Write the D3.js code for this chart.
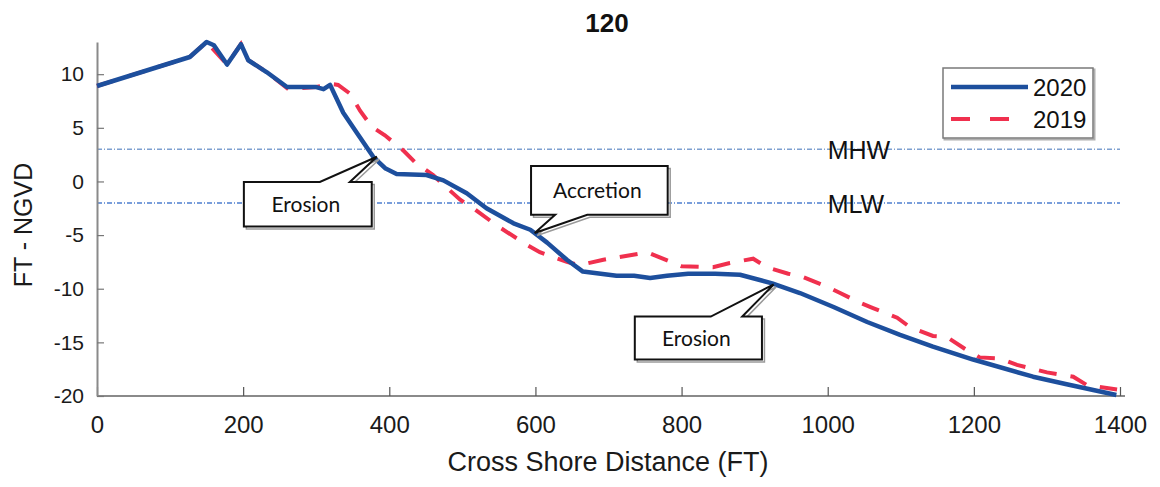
<!DOCTYPE html>
<html>
<head>
<meta charset="utf-8">
<script src="https://cdn.jsdelivr.net/npm/d3@7"></script>
<style>
  html, body { margin: 0; padding: 0; background: #fff; }
  svg { display: block; font-family: "Liberation Sans", Arial, sans-serif; }
</style>
</head>
<body>
<svg id="chart" width="1160" height="487"></svg>
<script>
// Beach profile 120: elevation (FT NGVD) versus cross shore distance (FT)
const title = "120";
const xTicks = [0, 200, 400, 600, 800, 1000, 1200, 1400];
const yTicks = [-20, -15, -10, -5, 0, 5, 10];

// 2020 survey [distance, elevation]
const profile2020 = [
  [0, 8.9], [127, 11.6], [150, 13.0], [160, 12.7], [178, 10.9], [197, 12.8], [207, 11.3],
  [232, 10.2], [260, 8.8], [300, 8.8], [310, 8.6], [319, 9.0], [337, 6.4], [356, 4.5],
  [378, 2.3], [395, 1.2], [410, 0.7], [451, 0.6], [474, 0.1], [506, -1.1], [533, -2.5],
  [570, -3.9], [593, -4.5], [616, -5.7], [643, -7.3], [665, -8.4], [711, -8.8], [735, -8.8],
  [757, -9.0], [780, -8.8], [809, -8.6], [846, -8.6], [880, -8.7], [924, -9.5], [962, -10.4],
  [1008, -11.7], [1054, -13.1], [1099, -14.3], [1144, -15.4], [1199, -16.6], [1281, -18.2],
  [1327, -18.9], [1395, -19.9]
];

// 2019 survey [distance, elevation]
const profile2019 = [
  [0, 8.9], [127, 11.6], [150, 13.0], [178, 10.9], [197, 12.8], [207, 11.3], [232, 10.2],
  [262, 8.6], [300, 8.8], [319, 9.1], [330, 9.0], [346, 8.2], [360, 6.6], [376, 5.1],
  [394, 4.3], [419, 2.9], [435, 1.8], [460, 0.6], [474, -0.3], [497, -1.7], [515, -2.5],
  [547, -4.1], [588, -5.9], [606, -6.6], [643, -7.5], [660, -7.8], [693, -7.3], [753, -6.6],
  [800, -7.9], [843, -8.0], [866, -7.6], [898, -7.2], [917, -8.0], [946, -8.6], [966, -8.9],
  [999, -9.8], [1017, -10.4], [1044, -11.3], [1062, -11.8], [1095, -12.7], [1113, -13.6],
  [1144, -14.4], [1163, -14.5], [1190, -15.7], [1208, -16.4], [1236, -16.5], [1259, -17.1],
  [1300, -17.8], [1336, -18.2], [1355, -19.0], [1396, -19.4]
];

// Tidal datums
const datumNames = ["MHW", "MLW"];
const datumLevels = [3, -2];

// Callouts: text, pointer tip, box extent and pointer base (all in data units)
const calloutText = ["Erosion", "Accretion", "Erosion"];
const calloutTip = [[383, 2.3], [599, -4.8], [926, -9.6]];
const calloutBox = [[201, 376, -0.05, -4.2], [594, 781, 1.45, -3.1], [736, 910, -12.6, -16.6]];
const calloutBase = [[305, 346, "top"], [627, 671, "bottom"], [840, 883, "top"]];

const seriesNames = ["2020", "2019"];

const svg = d3.select("#chart");
const x = d3.scaleLinear().domain([0, 1400]).range([97, 1120]);
const y = d3.scaleLinear().domain([-20, 13]).range([396, 42]);

// Title
svg.append("text")
  .attr("x", 607).attr("y", 32)
  .attr("text-anchor", "middle")
  .attr("font-size", 26).attr("font-weight", "bold")
  .attr("fill", "#111")
  .text(title);

// Datum reference lines
const datums = svg.append("g");
datumLevels.forEach((lv, i) => {
  datums.append("line")
    .attr("x1", x(0)).attr("x2", x(1400))
    .attr("y1", y(lv)).attr("y2", y(lv))
    .attr("stroke", i === 0 ? "#7d9fd0" : "#4d7fd0")
    .attr("stroke-width", 1.5)
    .attr("stroke-dasharray", "5,2,1,2");
  datums.append("text")
    .attr("x", x(1000)).attr("y", y(lv) + 10)
    .attr("font-size", 25).attr("fill", "#111")
    .text(datumNames[i]);
});

// Axes
const xAxis = d3.axisBottom(x).tickValues(xTicks).tickSizeInner(-9).tickSizeOuter(0)
  .tickPadding(20).tickFormat(d => String(d));
const yAxis = d3.axisLeft(y).tickValues(yTicks).tickSizeInner(-7).tickSizeOuter(0)
  .tickPadding(13).tickFormat(d => String(d));

const gx = svg.append("g").attr("transform", `translate(0,${y(-20)})`).call(xAxis);
gx.select(".domain").attr("stroke", "#8a8a8a").attr("stroke-width", 2)
  .attr("d", `M${x(0)},0H${x(1400) + 5}`);
gx.selectAll(".tick line").attr("stroke", "#555").attr("stroke-width", 1.2);
gx.selectAll(".tick text").attr("font-size", 24).attr("fill", "#1a1a1a")
  .attr("font-family", "'Liberation Sans', Arial, sans-serif");

const gy = svg.append("g").attr("transform", `translate(${x(0)},0)`).call(yAxis);
gy.select(".domain").attr("stroke", "#8a8a8a").attr("stroke-width", 2);
gy.selectAll(".tick line").attr("stroke", "#777").attr("stroke-width", 1.2);
gy.selectAll(".tick text").attr("font-size", 21).attr("fill", "#1a1a1a")
  .attr("font-family", "'Liberation Sans', Arial, sans-serif");

// Axis titles
svg.append("text")
  .attr("x", 608).attr("y", 471)
  .attr("text-anchor", "middle")
  .attr("font-size", 27).attr("fill", "#1a1a1a")
  .text("Cross Shore Distance (FT)");
svg.append("text")
  .attr("transform", "translate(32,225) rotate(-90)")
  .attr("text-anchor", "middle")
  .attr("font-size", 25).attr("fill", "#1a1a1a")
  .text("FT - NGVD");

// Profiles
const line = d3.line().x(d => x(d[0])).y(d => y(d[1]));
svg.append("path").datum(profile2019)
  .attr("d", line).attr("fill", "none")
  .attr("stroke", "#f0304e").attr("stroke-width", 4)
  .attr("stroke-dasharray", "18,14");
svg.append("path").datum(profile2020)
  .attr("d", line).attr("fill", "none")
  .attr("stroke", "#1d4f9d").attr("stroke-width", 4.5)
  .attr("stroke-linejoin", "round");

// Callouts
function calloutPath(box, base, tip) {
  const x0 = x(box[0]), x1 = x(box[1]), y0 = y(box[2]), y1 = y(box[3]);
  const wa = x(base[0]), wb = x(base[1]);
  const tx = x(tip[0]), ty = y(tip[1]);
  if (base[2] === "top") {
    return `M${x0},${y0}L${wa},${y0}L${tx},${ty}L${wb},${y0}L${x1},${y0}L${x1},${y1}L${x0},${y1}Z`;
  }
  return `M${x0},${y0}L${x1},${y0}L${x1},${y1}L${wb},${y1}L${tx},${ty}L${wa},${y1}L${x0},${y1}Z`;
}
const callouts = svg.append("g");
calloutText.forEach((t, i) => {
  const p = calloutPath(calloutBox[i], calloutBase[i], calloutTip[i]);
  callouts.append("path").attr("d", p)
    .attr("transform", "translate(2.5,2.5)")
    .attr("fill", "none").attr("stroke", "#9a9a9a").attr("stroke-width", 1.5);
  callouts.append("path").attr("d", p)
    .attr("fill", "#fff").attr("stroke", "#111").attr("stroke-width", 2)
    .attr("stroke-linejoin", "miter");
  const b = calloutBox[i];
  callouts.append("text")
    .attr("x", (x(b[0]) + x(b[1])) / 2 - 2)
    .attr("y", (y(b[2]) + y(b[3])) / 2)
    .attr("dy", "0.38em")
    .attr("text-anchor", "middle")
    .attr("font-family", "Lato, 'Open Sans', sans-serif")
    .attr("font-size", 21).attr("fill", "#111")
    .text(t);
});

// Legend
const legend = svg.append("g");
legend.append("rect").attr("x", 944.5).attr("y", 69.5).attr("width", 150).attr("height", 70)
  .attr("fill", "none").attr("stroke", "#b0b0b0").attr("stroke-width", 2);
legend.append("rect").attr("x", 943).attr("y", 68).attr("width", 150).attr("height", 70)
  .attr("fill", "#fff").attr("stroke", "#7a7a7a").attr("stroke-width", 1.5);
const legendColor = ["#1d4f9d", "#f0304e"];
const legendDash = [null, "19,20"];
seriesNames.forEach((n, i) => {
  const ly = 87 + i * 32;
  legend.append("line").attr("x1", 951).attr("x2", 1028).attr("y1", ly).attr("y2", ly)
    .attr("stroke", legendColor[i]).attr("stroke-width", i === 0 ? 4.5 : 4)
    .attr("stroke-dasharray", legendDash[i]);
  legend.append("text").attr("x", 1033).attr("y", ly + 9)
    .attr("font-size", 24).attr("fill", "#111").text(n);
});
</script>
</body>
</html>
